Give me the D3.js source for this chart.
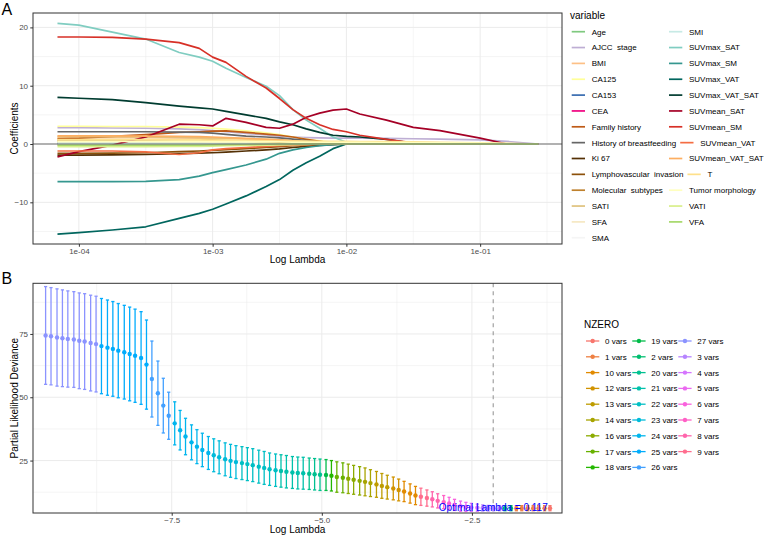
<!DOCTYPE html>
<html>
<head>
<meta charset="utf-8">
<style>
  body { margin: 0; background: #fff; }
  svg text { font-family: "Liberation Sans", Arial, sans-serif; }
  .grid-major { stroke: #EBEBEB; stroke-width: 1; }
  .grid-minor { stroke: #EBEBEB; stroke-width: 0.5; }
  .frame { fill: none; stroke: #333; stroke-width: 1; }
  .tick text { font-size: 8px; fill: #4D4D4D; }
  .tick line { stroke: #333; }
  .axis-title { font-size: 10px; fill: #000; }
  .legend-title { font-size: 10px; fill: #000; }
  .legend-label { font-size: 8px; fill: #000; white-space: pre; }
  .panel-tag { font-size: 16px; fill: #000; }
</style>
</head>
<body>
<script src="https://cdn.jsdelivr.net/npm/d3@7"></script>
<script>
// ---------- data: panel A (coefficient paths) ----------
var variables = ["Age", "AJCC  stage", "BMI", "CA125", "CA153", "CEA", "Family history",
  "History of breastfeeding", "Ki 67", "Lymphovascular  invasion", "Molecular  subtypes",
  "SATI", "SFA", "SMA", "SMI", "SUVmax_SAT", "SUVmax_SM", "SUVmax_VAT", "SUVmax_VAT_SAT",
  "SUVmean_SAT", "SUVmean_SM", "SUVmean_VAT", "SUVmean_VAT_SAT", "T", "Tumor morphology",
  "VATI", "VFA"];
var varColors = ["#7FC97F", "#BEAED4", "#FDC086", "#FFFF99", "#386CB0", "#F0027F", "#BF5B17",
  "#666666", "#543005", "#8C510A", "#BF812D", "#DFC27D", "#F6E8C3", "#F5F5F5", "#C7EAE5",
  "#80CDC1", "#35978F", "#01665E", "#003C30", "#A50026", "#D73027", "#F46D43", "#FDAE61",
  "#FEE08B", "#FFFFBF", "#D9EF8B", "#A6D96A"];
// log10(lambda) where the paths were read
var pathLog10Lambda = [-4.16, -4.0, -3.75, -3.5, -3.25, -3.1, -3.0, -2.9, -2.75, -2.6, -2.5, -2.4,
  -2.3, -2.2, -2.1, -2.0, -1.9, -1.7, -1.5, -1.3, -1.0, -0.8, -0.567];
// one row per variable, same order as `variables`
var coefPaths = [
  [0.15,0.15,0.15,0.15,0.14,0.13,0.12,0.10,0.08,0.06,0.04,0.02,0,0,0,0,0,0,0,0,0,0,0],
  [2.8,2.8,2.75,2.7,2.6,2.45,2.3,2.1,1.8,1.55,1.35,1.2,1.1,1.05,1.0,1.0,1.0,0.95,0.9,0.85,0.7,0.45,0],
  [1.1,1.1,1.1,1.1,1.05,1.0,1.0,0.95,0.85,0.75,0.7,0.55,0.45,0.35,0.2,0.1,0,0,0,0,0,0,0],
  [3.05,3.05,3.0,3.0,2.9,2.8,2.7,2.55,2.25,1.9,1.6,1.2,0.85,0.55,0.3,0.15,0.05,0,0,0,0,0,0],
  [0.05,0.05,0.05,0.05,0.05,0.04,0.04,0.03,0.02,0.01,0,0,0,0,0,0,0,0,0,0,0,0,0],
  [-0.1,-0.1,-0.1,-0.1,-0.09,-0.08,-0.07,-0.05,-0.02,0,0,0,0,0,0,0,0,0,0,0,0,0,0],
  [0.9,1.0,1.3,1.6,2.0,2.1,2.2,2.25,2.0,1.7,1.5,1.2,0.8,0.45,0.15,0,0,0,0,0,0,0,0],
  [2.1,2.1,2.1,2.1,2.05,2.0,1.85,1.65,1.35,1.2,1.05,0.85,0.6,0.3,0.1,0,0,0,0,0,0,0,0],
  [-1.9,-1.9,-1.85,-1.8,-1.65,-1.55,-1.5,-1.4,-1.2,-1.0,-0.85,-0.6,-0.4,-0.25,-0.1,0,0,0,0,0,0,0,0],
  [-1.6,-1.6,-1.55,-1.5,-1.3,-1.2,-1.1,-0.95,-0.8,-0.6,-0.45,-0.3,-0.2,-0.1,0,0,0,0,0,0,0,0,0],
  [0.55,0.55,0.6,0.65,0.7,0.7,0.65,0.6,0.5,0.4,0.3,0.2,0.1,0.05,0,0,0,0,0,0,0,0,0],
  [1.25,1.25,1.25,1.2,1.15,1.1,1.05,1.0,0.9,0.8,0.7,0.55,0.4,0.25,0.1,0,0,0,0,0,0,0,0],
  [0.3,0.3,0.3,0.3,0.28,0.25,0.22,0.18,0.1,0,0,0,0,0,0,0,0,0,0,0,0,0,0],
  [-0.15,-0.15,-0.15,-0.14,-0.12,-0.1,-0.08,-0.05,0,0,0,0,0,0,0,0,0,0,0,0,0,0,0],
  [0.1,0.1,0.1,0.1,0.09,0.08,0.07,0.05,0.02,0,0,0,0,0,0,0,0,0,0,0,0,0,0],
  [20.7,20.4,19.2,18.0,15.7,14.9,14.2,13.0,11.4,9.9,8.3,5.9,4.1,2.7,1.2,0.3,0,0,0,0,0,0,0],
  [-6.45,-6.45,-6.45,-6.4,-6.1,-5.5,-4.9,-4.4,-3.6,-2.6,-1.6,-1.0,-0.6,-0.3,-0.1,0,0,0,0,0,0,0,0],
  [-15.45,-15.2,-14.75,-14.2,-12.75,-11.9,-11.2,-10.3,-8.9,-7.3,-6.1,-4.5,-3.2,-2.1,-0.8,0,0,0,0,0,0,0,0],
  [8.0,7.85,7.6,7.1,6.5,6.2,6.0,5.6,5.0,4.4,3.8,3.3,2.6,2.0,1.5,1.3,1.2,0.8,0.1,0,0,0,0],
  [-2.2,-1.3,-0.2,1.2,3.4,3.3,3.1,4.4,3.7,2.85,2.7,3.4,4.6,5.3,5.8,6.0,5.15,4.1,2.85,2.3,1.0,0,0],
  [18.35,18.35,18.3,18.0,17.4,16.4,14.9,14.0,11.6,9.6,7.8,5.9,4.4,3.3,2.5,2.1,1.5,0.8,0.2,0,0,0,0],
  [-1.2,-1.2,-1.2,-1.35,-1.8,-1.5,-1.0,-0.8,-0.6,-0.4,-0.3,-0.2,-0.1,0,0,0,0,0,0,0,0,0,0],
  [1.4,1.4,1.4,1.35,1.3,1.25,1.2,1.1,0.95,0.8,0.7,0.5,0.3,0.15,0.05,0,0,0,0,0,0,0,0],
  [0.75,0.75,0.75,0.75,0.7,0.7,0.65,0.65,0.6,0.55,0.5,0.5,0.5,0.45,0.45,0.45,0.4,0.4,0.35,0.3,0.2,0.1,0],
  [0.45,0.45,0.45,0.45,0.45,0.45,0.4,0.4,0.4,0.35,0.35,0.3,0.3,0.3,0.3,0.3,0.3,0.25,0.25,0.2,0.15,0.05,0],
  [-0.45,-0.45,-0.45,-0.45,-0.4,-0.4,-0.35,-0.3,-0.25,-0.2,-0.15,-0.1,-0.05,0,0,0,0,0,0,0,0,0,0],
  [-0.2,-0.2,-0.2,-0.2,-0.2,-0.18,-0.15,-0.12,-0.08,-0.04,0,0,0,0,0,0,0,0,0,0,0,0,0]
];
var xTicksA = [1e-4, 1e-3, 1e-2, 1e-1];
var xTickLabelsA = ["1e-04", "1e-03", "1e-02", "1e-01"];
var yTicksA = [-10, 0, 10, 20];

// ---------- data: panel B (cross-validation) ----------
var lnLambda = [-9.60, -9.51, -9.41, -9.32, -9.23, -9.13, -9.04, -8.95, -8.85, -8.76,
  -8.67, -8.57, -8.48, -8.39, -8.29, -8.20, -8.11, -8.01, -7.92, -7.83,
  -7.73, -7.64, -7.55, -7.45, -7.36, -7.27, -7.17, -7.08, -6.99, -6.89,
  -6.80, -6.71, -6.61, -6.52, -6.43, -6.33, -6.24, -6.15, -6.05, -5.96,
  -5.87, -5.77, -5.68, -5.59, -5.49, -5.40, -5.31, -5.21, -5.12, -5.03,
  -4.93, -4.84, -4.75, -4.65, -4.56, -4.47, -4.37, -4.28, -4.19, -4.09,
  -4.00, -3.91, -3.81, -3.72, -3.63, -3.53, -3.44, -3.35, -3.25, -3.16,
  -3.07, -2.97, -2.88, -2.79, -2.69, -2.60, -2.51, -2.41, -2.32, -2.23,
  -2.14, -2.04, -1.95, -1.85, -1.76, -1.67, -1.57, -1.48, -1.39, -1.29, -1.20];
var cvMean = [74.4, 74.1, 73.6, 73.3, 73.0, 72.8, 72.3, 72.0, 71.4, 71.0,
  70.2, 69.6, 69.1, 68.4, 67.8, 67.1, 66.4, 65.5, 62.9, 57.2,
  51.6, 46.7, 42.7, 39.7, 37.0, 34.5, 32.2, 30.5, 29.2, 28.0,
  27.1, 26.3, 25.5, 24.9, 24.4, 24.0, 23.6, 23.2, 22.6, 22.1,
  21.6, 21.2, 20.9, 20.6, 20.3, 20.1, 20.0, 19.8, 19.6, 19.4,
  19.3, 19.0, 18.5, 18.2, 17.8, 17.4, 17.0, 16.6, 16.1, 15.6,
  15.0, 14.5, 14.0, 13.4, 12.8, 12.0, 11.2, 10.7, 10.2, 9.7,
  9.1, 8.6, 8.1, 7.5, 7.0, 6.7, 6.5, 6.4, 6.3, 6.2,
  6.2, 6.2, 6.2, 6.2, 6.2, 6.2, 6.2, 6.2, 6.2, 6.2, 6.2];
var cvSd = [19.3, 19.2, 19.2, 19.1, 19.0, 18.9, 18.9, 18.9, 18.9, 18.9,
  18.8, 18.8, 18.7, 18.6, 18.5, 18.5, 18.4, 18.3, 17.6, 15.0,
  12.7, 10.8, 9.3, 8.5, 7.8, 7.2, 6.9, 6.7, 6.6, 6.5,
  6.5, 6.5, 6.5, 6.5, 6.5, 6.5, 6.5, 6.5, 6.5, 6.5,
  6.4, 6.4, 6.4, 6.4, 6.3, 6.3, 6.3, 6.2, 6.2, 6.2,
  6.1, 6.0, 6.0, 5.9, 5.8, 5.7, 5.6, 5.5, 5.3, 5.1,
  4.9, 4.7, 4.5, 4.3, 4.0, 3.8, 3.6, 3.4, 3.2, 3.0,
  2.8, 2.6, 2.4, 2.2, 2.0, 1.8, 1.6, 1.4, 1.2, 1.1,
  1.0, 1.0, 1.0, 1.0, 1.0, 1.0, 1.0, 1.0, 1.0, 1.0, 1.0];
var nzero = [27, 27, 27, 27, 27, 27, 27, 27, 27, 27,
  25, 25, 25, 25, 25, 25, 25, 25, 25, 26,
  26, 26, 26, 24, 24, 24, 24, 24, 24, 24,
  23, 23, 23, 23, 23, 22, 22, 22, 22, 22,
  22, 22, 21, 21, 21, 21, 21, 20, 20, 20,
  19, 18, 17, 17, 16, 16, 16, 14, 14, 13,
  13, 13, 12, 12, 10, 10, 10, 9, 9, 8,
  8, 7, 6, 6, 5, 5, 4, 4, 3, 3,
  3, 3, 2, 2, 1, 1, 1, 1, 1, 1, 0];
var nzeroLevels = ["0 vars", "1 vars", "10 vars", "12 vars", "13 vars", "14 vars", "16 vars",
  "17 vars", "18 vars", "19 vars", "2 vars", "20 vars", "21 vars", "22 vars", "23 vars",
  "24 vars", "25 vars", "26 vars", "27 vars", "3 vars", "4 vars", "5 vars", "6 vars",
  "7 vars", "8 vars", "9 vars"];
var optLambda = 0.117;
var xTicksB = [-7.5, -5.0, -2.5];
var yTicksB = [25, 50, 75];

// ggplot-style hue palette (polar LUV -> sRGB, like R's hcl())
function hcl(h, c, l) {
  var hr = h * Math.PI / 180;
  var U = c * Math.cos(hr), V = c * Math.sin(hr);
  var Y = 100 * (l > 7.999592 ? Math.pow((l + 16) / 116, 3) : l / 903.3);
  var u = U / (13 * l) + 0.1978398, v = V / (13 * l) + 0.4683363;
  var X = 9 * Y * u / (4 * v);
  var Z = -X / 3 - 5 * Y + 3 * Y / v;
  function g(t) {
    t = t / 100;
    t = t > 0.00304 ? 1.055 * Math.pow(t, 1 / 2.4) - 0.055 : 12.92 * t;
    return Math.round(255 * Math.max(0, Math.min(1, t)));
  }
  return d3.rgb(g(3.240479 * X - 1.537150 * Y - 0.498535 * Z),
                g(-0.969256 * X + 1.875992 * Y + 0.041556 * Z),
                g(0.055648 * X - 0.204043 * Y + 1.057311 * Z)).formatHex();
}
var nzeroColor = d3.scaleOrdinal()
  .domain(nzeroLevels)
  .range(nzeroLevels.map(function (d, i) { return hcl(15 + 360 * i / nzeroLevels.length, 100, 65); }));

var svg = d3.select("body").append("svg")
  .attr("width", 767)
  .attr("height", 537);

var plotA = { left: 33, right: 562, top: 13, bottom: 244 };
var plotB = { left: 33, right: 562, top: 283.3, bottom: 513 };

// ================= panel A =================
var xA = d3.scaleLog().domain([Math.pow(10, -4.343), Math.pow(10, -0.388)]).range([plotA.left, plotA.right]);
var yA = d3.scaleLinear().domain([-17.15, 22.47]).range([plotA.bottom, plotA.top]);

var gA = svg.append("g");
// minor grid
[-4.5, -3.5, -2.5, -1.5, -0.5].forEach(function (e) {
  var x = xA(Math.pow(10, e));
  if (x < plotA.left || x > plotA.right) return;
  gA.append("line").attr("class", "grid-minor")
    .attr("x1", x).attr("x2", x).attr("y1", plotA.top).attr("y2", plotA.bottom);
});
[-15, -5, 5, 15].forEach(function (v) {
  gA.append("line").attr("class", "grid-minor")
    .attr("x1", plotA.left).attr("x2", plotA.right).attr("y1", yA(v)).attr("y2", yA(v));
});
// major grid
xTicksA.forEach(function (v) {
  gA.append("line").attr("class", "grid-major")
    .attr("x1", xA(v)).attr("x2", xA(v)).attr("y1", plotA.top).attr("y2", plotA.bottom);
});
yTicksA.forEach(function (v) {
  gA.append("line").attr("class", "grid-major")
    .attr("x1", plotA.left).attr("x2", plotA.right).attr("y1", yA(v)).attr("y2", yA(v));
});

var pathLine = d3.line()
  .x(function (d) { return xA(Math.pow(10, d[0])); })
  .y(function (d) { return yA(d[1]); });

coefPaths.forEach(function (row, k) {
  var pts = row.map(function (v, i) { return [pathLog10Lambda[i], v]; });
  gA.append("path")
    .attr("d", pathLine(pts))
    .attr("fill", "none")
    .attr("stroke", varColors[k])
    .attr("stroke-width", 1.7)
    .attr("stroke-linejoin", "round");
});

// zero reference line
gA.append("line")
  .attr("x1", plotA.left).attr("x2", plotA.right)
  .attr("y1", yA(0)).attr("y2", yA(0))
  .attr("stroke", "#6E6E6E").attr("stroke-width", 1.2);

gA.append("rect").attr("class", "frame")
  .attr("x", plotA.left).attr("y", plotA.top)
  .attr("width", plotA.right - plotA.left).attr("height", plotA.bottom - plotA.top);

var axA_x = gA.append("g")
  .attr("transform", "translate(0," + plotA.bottom + ")")
  .call(d3.axisBottom(xA).tickValues(xTicksA)
    .tickFormat(function (d, i) { return xTickLabelsA[i]; })
    .tickSize(2.75).tickPadding(2));
var axA_y = gA.append("g")
  .attr("transform", "translate(" + plotA.left + ",0)")
  .call(d3.axisLeft(yA).tickValues(yTicksA).tickSize(2.75).tickPadding(2.2));
[axA_x, axA_y].forEach(function (a) {
  a.select(".domain").remove();
  a.selectAll("text").attr("font-family", null).attr("font-size", null);
});

gA.append("text").attr("class", "axis-title")
  .attr("x", (plotA.left + plotA.right) / 2).attr("y", 263)
  .attr("text-anchor", "middle").text("Log Lambda");
gA.append("text").attr("class", "axis-title")
  .attr("transform", "translate(17.5," + (plotA.top + plotA.bottom) / 2 + ") rotate(-90)")
  .attr("text-anchor", "middle").text("Coefficients");
svg.append("text").attr("class", "panel-tag").attr("x", 1.5).attr("y", 15).text("A");

// legend A
var legA = svg.append("g");
legA.append("text").attr("class", "legend-title").attr("x", 570).attr("y", 18.5).text("variable");
var rowsA = 14;
var col1End = [];
variables.forEach(function (name, i) {
  var col = Math.floor(i / rowsA), row = i % rowsA;
  var y = 31.7 + row * 15.85;
  var kx = 571.7;
  if (col === 1) kx = Math.max(669, col1End[row] + 4);
  legA.append("line")
    .attr("x1", kx).attr("x2", kx + 13.3).attr("y1", y).attr("y2", y)
    .attr("stroke", varColors[i]).attr("stroke-width", 1.7);
  var t = legA.append("text").attr("class", "legend-label")
    .attr("x", kx + 20).attr("y", y + 2.9).text(name);
  if (col === 0) col1End[row] = kx + 20 + t.node().getComputedTextLength();
});

// ================= panel B =================
var xB = d3.scaleLinear().domain([-9.81, -1.0]).range([plotB.left, plotB.right]);
var yB = d3.scaleLinear().domain([4.3, 95.0]).range([plotB.bottom, plotB.top]);

var gB = svg.append("g");
[-8.75, -6.25, -3.75, -1.25].forEach(function (v) {
  gB.append("line").attr("class", "grid-minor")
    .attr("x1", xB(v)).attr("x2", xB(v)).attr("y1", plotB.top).attr("y2", plotB.bottom);
});
[12.5, 37.5, 62.5, 87.5].forEach(function (v) {
  gB.append("line").attr("class", "grid-minor")
    .attr("x1", plotB.left).attr("x2", plotB.right).attr("y1", yB(v)).attr("y2", yB(v));
});
xTicksB.forEach(function (v) {
  gB.append("line").attr("class", "grid-major")
    .attr("x1", xB(v)).attr("x2", xB(v)).attr("y1", plotB.top).attr("y2", plotB.bottom);
});
yTicksB.forEach(function (v) {
  gB.append("line").attr("class", "grid-major")
    .attr("x1", plotB.left).attr("x2", plotB.right).attr("y1", yB(v)).attr("y2", yB(v));
});

// optimal lambda marker
gB.append("line")
  .attr("x1", xB(Math.log(optLambda))).attr("x2", xB(Math.log(optLambda)))
  .attr("y1", plotB.top).attr("y2", plotB.bottom)
  .attr("stroke", "#9A9A9A").attr("stroke-width", 1.1).attr("stroke-dasharray", "4,4");

var cv = lnLambda.map(function (l, i) {
  return { x: l, m: cvMean[i], sd: cvSd[i], nz: nzero[i] + " vars" };
});
var bars = gB.selectAll("g.bar").data(cv).enter().append("g").attr("class", "bar");
bars.append("line")
  .attr("x1", function (d) { return xB(d.x); }).attr("x2", function (d) { return xB(d.x); })
  .attr("y1", function (d) { return yB(d.m - d.sd); }).attr("y2", function (d) { return yB(d.m + d.sd); })
  .attr("stroke", function (d) { return nzeroColor(d.nz); }).attr("stroke-width", 1.3);
[-1, 1].forEach(function (s) {
  bars.append("line")
    .attr("x1", function (d) { return xB(d.x) - 1.6; }).attr("x2", function (d) { return xB(d.x) + 1.6; })
    .attr("y1", function (d) { return yB(d.m + s * d.sd); }).attr("y2", function (d) { return yB(d.m + s * d.sd); })
    .attr("stroke", function (d) { return nzeroColor(d.nz); }).attr("stroke-width", 1.3);
});
bars.append("circle")
  .attr("cx", function (d) { return xB(d.x); })
  .attr("cy", function (d) { return yB(d.m); })
  .attr("r", 2.2)
  .attr("fill", function (d) { return nzeroColor(d.nz); });

gB.append("text")
  .attr("x", xB(Math.log(optLambda))).attr("y", yB(4.9))
  .attr("text-anchor", "middle")
  .attr("font-size", "10px").attr("fill", "#0000FF")
  .text("Optimal Lambda = " + optLambda);

gB.append("rect").attr("class", "frame")
  .attr("x", plotB.left).attr("y", plotB.top)
  .attr("width", plotB.right - plotB.left).attr("height", plotB.bottom - plotB.top);

var axB_x = gB.append("g")
  .attr("transform", "translate(0," + plotB.bottom + ")")
  .call(d3.axisBottom(xB).tickValues(xTicksB).tickFormat(d3.format(".1f"))
    .tickSize(2.75).tickPadding(2));
var axB_y = gB.append("g")
  .attr("transform", "translate(" + plotB.left + ",0)")
  .call(d3.axisLeft(yB).tickValues(yTicksB).tickSize(2.75).tickPadding(2.2));
[axB_x, axB_y].forEach(function (a) {
  a.select(".domain").remove();
  a.selectAll("text").attr("font-family", null).attr("font-size", null);
});

gB.append("text").attr("class", "axis-title")
  .attr("x", (plotB.left + plotB.right) / 2).attr("y", 533)
  .attr("text-anchor", "middle").text("Log Lambda");
gB.append("text").attr("class", "axis-title")
  .attr("transform", "translate(17.5," + (plotB.top + plotB.bottom) / 2 + ") rotate(-90)")
  .attr("text-anchor", "middle").text("Partial Likelihood Deviance");
svg.append("text").attr("class", "panel-tag").attr("x", 1.5).attr("y", 284).text("B");

// legend B
var legB = svg.append("g");
legB.append("text").attr("class", "legend-title").attr("x", 584).attr("y", 327.5).text("NZERO");
var colXB = [586, 632.3, 678.3];
nzeroLevels.forEach(function (lv, i) {
  var col = Math.floor(i / 9), row = i % 9;
  var y = 341 + row * 15.8;
  var kx = colXB[col];
  legB.append("line")
    .attr("x1", kx).attr("x2", kx + 13.3).attr("y1", y).attr("y2", y)
    .attr("stroke", nzeroColor(lv)).attr("stroke-width", 1.3);
  legB.append("circle").attr("cx", kx + 6.65).attr("cy", y).attr("r", 2.2)
    .attr("fill", nzeroColor(lv));
  legB.append("text").attr("class", "legend-label")
    .attr("x", kx + 19).attr("y", y + 2.9).text(lv);
});
</script>
</body>
</html>
